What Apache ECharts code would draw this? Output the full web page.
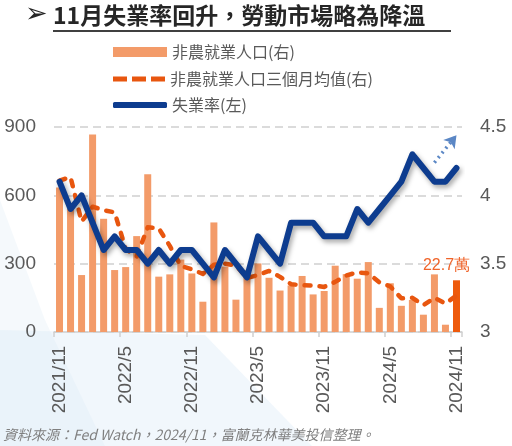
<!DOCTYPE html>
<html><head><meta charset="utf-8">
<script src="https://cdn.jsdelivr.net/npm/echarts/dist/echarts.min.js"></script>
<style>html,body{margin:0;padding:0;background:#fff}#c{width:512px;height:446px}</style>
</head><body><div id="c"></div>
<script>
// ---- data ----
const months = ['2021/11','2021/12','2022/1','2022/2','2022/3','2022/4','2022/5','2022/6','2022/7','2022/8','2022/9','2022/10',
  '2022/11','2022/12','2023/1','2023/2','2023/3','2023/4','2023/5','2023/6','2023/7','2023/8','2023/9','2023/10',
  '2023/11','2023/12','2024/1','2024/2','2024/3','2024/4','2024/5','2024/6','2024/7','2024/8','2024/9','2024/10','2024/11'];
// 非農就業人口 (千人)
const payrolls = [634, 541, 250, 867, 497, 272, 285, 421, 693, 243, 253, 318,
  257, 133, 481, 287, 142, 270, 301, 238, 182, 204, 246, 165,
  180, 291, 254, 234, 307, 106, 214, 115, 141, 76, 253, 32, 227];
// 非農就業人口三個月均值
const payrollAvg3 = [665, 680, 485, 550, 535, 525, 365, 332, 460, 455, 378, 290,
  275, 255, 295, 300, 292, 237, 250, 268, 242, 210, 205, 204,
  198, 220, 248, 262, 258, 218, 200, 148, 150, 118, 150, 125, 160];
// 失業率 (%)
const unemployment = [4.1, 3.9, 4.0, 3.8, 3.6, 3.7, 3.6, 3.6, 3.5, 3.6, 3.5, 3.6,
  3.6, 3.5, 3.4, 3.6, 3.5, 3.4, 3.7, 3.6, 3.5, 3.8, 3.8, 3.8,
  3.7, 3.7, 3.7, 3.9, 3.8, 3.9, 4.0, 4.1, 4.3, 4.2, 4.1, 4.1, 4.2];
const leftAxis = {min: 0, max: 900, interval: 300};
const rightAxis = {min: 3, max: 4.5, interval: 0.5};
const trendArrow = [[months[34], 4.24], [months[36], 4.44]];

const names = ['非農就業人口(右)', '非農就業人口三個月均值(右)', '失業率(左)'];
const barColor = '#F39B69', lastBarColor = '#EE5A0C', avgColor = '#E8560F', rateColor = '#0D3C8F';
const gray = '#595959';
const cjk = '"Noto Sans CJK TC", "Noto Sans", sans-serif';
const latin = '"Liberation Sans", Arial, sans-serif';

const barData = payrolls.map((v, i) => i === payrolls.length - 1 ? {
  value: v,
  itemStyle: {color: lastBarColor},
  label: {show: true, position: 'top', offset: [-10, -2], formatter: (v / 10).toFixed(1) + '萬',
    color: '#F0642A', fontSize: 16, fontFamily: latin}
} : v);

const legendBase = {left: 113, padding: 0, selectedMode: false, orient: 'vertical',
  textStyle: {fontFamily: cjk, fontSize: 16, color: gray}};

const chart = echarts.init(document.getElementById('c'), null, {renderer: 'canvas'});
chart.setOption({
  animation: false,
  backgroundColor: '#ffffff',
  title: {text: '11月失業率回升，勞動市場略為降溫', left: 53, top: 4, padding: 0,
    textStyle: {fontFamily: cjk, fontSize: 23, fontWeight: 'bold', color: '#262626'}},
  legend: [
    Object.assign({}, legendBase, {top: 44, itemWidth: 54, itemHeight: 10,
      data: [{name: names[0], icon: 'rect'}]}),
    Object.assign({}, legendBase, {top: 71, itemWidth: 52, itemHeight: 5,
      data: [{name: names[1], icon: 'path://M0,0h14v5h-14z M19,0h14v5h-14z M38,0h14v5h-14z'}]}),
    Object.assign({}, legendBase, {top: 97, itemWidth: 54, itemHeight: 6,
      data: [{name: names[2], icon: 'roundRect'}]})
  ],
  graphic: [
    {type: 'polygon', z: -10, silent: true, shape: {points: [[0, 200], [0, 446], [105, 446], [45, 320]]},
      style: {fill: 'rgba(210,228,242,0.22)'}},
    {type: 'polygon', z: -10, silent: true, shape: {points: [[0, 330], [0, 446], [312, 446], [205, 335]]},
      style: {fill: 'rgba(215,232,245,0.35)'}},
    {type: 'text', left: 25, top: 1, style: {text: '➢', font: '27px "DejaVu Sans"', fill: '#262626'}},
    {type: 'line', shape: {x1: 53, y1: 31, x2: 451, y2: 31}, style: {stroke: '#404040', lineWidth: 2}},
    {type: 'text', left: 3, top: 428, style: {text: '資料來源：Fed Watch，2024/11，富蘭克林華美投信整理。',
      font: 'italic 14px "Noto Sans CJK TC", sans-serif', fill: '#7F7F7F'}}
  ],
  grid: {left: 54, right: 50, top: 127, bottom: 114, containLabel: false, outerBoundsMode: 'none'},
  xAxis: {
    type: 'category', data: months, boundaryGap: true,
    axisLine: {show: true, lineStyle: {color: '#D0D0D0', width: 1.5}},
    axisTick: {show: true, interval: 5, length: 5, lineStyle: {color: '#D0D0D0', width: 1.5}},
    axisLabel: {interval: 5, rotate: 90, margin: 14, fontSize: 19, color: gray, fontFamily: latin},
    splitLine: {show: false}
  },
  yAxis: [
    {type: 'value', min: leftAxis.min, max: leftAxis.max, interval: leftAxis.interval,
      axisLine: {show: false}, axisTick: {show: false},
      axisLabel: {margin: 18, fontSize: 19, color: gray, fontFamily: latin},
      splitLine: {show: true, lineStyle: {color: '#D0D0D0', width: 1.5, type: [8, 5]}}},
    {type: 'value', position: 'right', min: rightAxis.min, max: rightAxis.max, interval: rightAxis.interval,
      axisLine: {show: false}, axisTick: {show: false},
      axisLabel: {margin: 18, fontSize: 19, color: gray, fontFamily: latin},
      splitLine: {show: false}}
  ],
  series: [
    {name: names[0], type: 'bar', yAxisIndex: 0, data: barData, barWidth: 7,
      itemStyle: {color: barColor}, z: 2},
    {name: names[1], type: 'line', yAxisIndex: 0, data: payrollAvg3, symbol: 'none', showSymbol: false,
      itemStyle: {color: avgColor},
      lineStyle: {color: avgColor, width: 4.5, type: [6, 9], cap: 'round', join: 'round'}, z: 3},
    {name: names[2], type: 'line', yAxisIndex: 1, data: unemployment, symbol: 'none', showSymbol: false,
      itemStyle: {color: rateColor},
      lineStyle: {color: rateColor, width: 6, cap: 'round', join: 'round',
        shadowColor: 'rgba(0,0,0,0.35)', shadowBlur: 5, shadowOffsetX: 2, shadowOffsetY: 3}, z: 4,
      markLine: {silent: true, symbol: ['none', 'arrow'], symbolSize: [11, 12],
        lineStyle: {color: '#5B87C5', width: 3.5, type: [2, 4], shadowBlur: 0},
        label: {show: false}, emphasis: {disabled: true},
        data: [[{coord: trendArrow[0]}, {coord: trendArrow[1]}]]}}
  ]
});
</script>
</body></html>
